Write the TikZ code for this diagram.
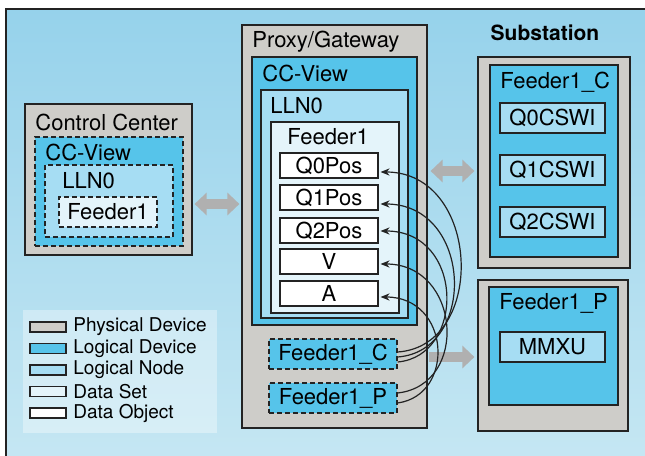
\documentclass[tikz,border=0pt]{standalone}
\usepackage{fontspec}
\setmainfont{TeX Gyre Heros}
\usetikzlibrary{fit,arrows.meta}
\definecolor{bgtop}{RGB}{150,210,235}
\definecolor{bgbottom}{RGB}{198,231,243}
\definecolor{physgray}{RGB}{206,205,201}
\definecolor{ldblue}{RGB}{86,196,234}
\definecolor{lnblue}{RGB}{166,221,243}
\definecolor{dsblue}{RGB}{228,244,250}
\definecolor{arrowgray}{RGB}{176,176,176}
\definecolor{linegray}{RGB}{35,35,35}

\begin{document}
\begin{tikzpicture}[x=0.5pt,y=-0.5pt,
    font=\fontsize{11}{13}\selectfont,
    box/.style={draw=linegray, line width=0.6pt, inner sep=0pt},
    phys/.style={box, fill=physgray},
    ldev/.style={box, fill=ldblue},
    lnode/.style={box, fill=lnblue},
    dset/.style={box, fill=dsblue},
    dobj/.style={box, fill=white},
    virt/.style={dash pattern=on 2.5pt off 1.5pt},
    inside/.style={label={[inner sep=0pt]center:#1}},
    boxtitle/.style={anchor=west, inner sep=0pt},
    link/.style={draw=linegray, line width=0.6pt, -{Stealth[length=4.5pt,width=3.6pt]}},
    bigarrow/.style={draw=arrowgray, line width=5pt}]
  \useasboundingbox (0,0) rectangle (645,456);
  \clip (0,0) rectangle (645,456);
  \fill[white] (0,0) rectangle (645,456);
  \fill[top color=bgtop, bottom color=bgbottom] (6,9) rectangle (660,470);
  \draw[linegray, line width=0.7pt] (6,470) -- (6,9) -- (660,9);

  % control center
  \node[phys, fit={(25,104) (192,255)}] (cc) {};
  \node[boxtitle] (cct) at (35,122) {Control Center};
  \node[ldev, virt, fit={(35,137) (183,246)}] (ccv) {};
  \node[boxtitle] (ccvt) at (45,152) {CC-View};
  \node[lnode, virt, fit={(45,165) (173,237)}] (ccl) {};
  \node[boxtitle] (cclt) at (62,181) {LLN0};
  \node[dset, virt, fit={(59,197) (157,227)}, inside=Feeder1] (ccf) {};

  % proxy / gateway
  \node[phys, fit={(242,25) (427,428)}] (gw) {};
  \node[boxtitle] (gwt) at (252,42) {Proxy/Gateway};
  \node[ldev, fit={(252,57) (417,325)}] (gwv) {};
  \node[boxtitle] (gwvt) at (262,73) {CC-View};
  \node[lnode, fit={(261,90) (408,318)}] (gwl) {};
  \node[boxtitle] (gwlt) at (270,106) {LLN0};
  \node[dset, fit={(271,122) (399,313)}] (gwf) {};
  \node[boxtitle] (gwft) at (287,137) {Feeder1};
  \node[dobj, fit={(280,153) (378,178)}, inside=Q0Pos] (q0) {};
  \node[dobj, fit={(280,185) (378,210)}, inside=Q1Pos] (q1) {};
  \node[dobj, fit={(280,218) (378,243)}, inside=Q2Pos] (q2) {};
  \node[dobj, fit={(280,249) (378,274)}, inside=V] (v) {};
  \node[dobj, fit={(280,281) (378,306)}, inside=A] (a) {};
  \node[ldev, virt, fit={(269,339) (397,369)}, inside=Feeder1\_C] (fc) {};
  \node[ldev, virt, fit={(269,383) (397,413)}, inside=Feeder1\_P] (fp) {};

  % substation
  \node[font=\bfseries\fontsize{10.5}{12}\selectfont] (sub) at (545,33) {Substation};
  \node[phys, fit={(478,57) (630,268)}] (subc) {};
  \node[ldev, fit={(490,65) (618,257)}] (subcl) {};
  \node[boxtitle] (subct) at (500,82) {Feeder1\_C};
  \node[lnode, fit={(500,103) (605,133)}, inside=Q0CSWI] (s0) {};
  \node[lnode, fit={(500,155) (605,185)}, inside=Q1CSWI] (s1) {};
  \node[lnode, fit={(500,207) (605,237)}, inside=Q2CSWI] (s2) {};
  \node[phys, fit={(478,280) (628,431)}] (subp) {};
  \node[ldev, fit={(489,287) (618,405)}] (subpl) {};
  \node[boxtitle] (subpt) at (499,303) {Feeder1\_P};
  \node[lnode, fit={(500,332) (605,362)}, inside=MMXU] (mmxu) {};

  % legend
  \fill[white, opacity=0.35] (23,310) rectangle (217,433);
  \foreach \col/\txt [count=\i] in {physgray/Physical Device, ldblue/Logical Device,
      lnblue/Logical Node, dsblue/Data Set, white/Data Object} {
    \pgfmathsetmacro\ly{305.5+21.5*\i}
    \node[box, fill=\col, fit={(30,\ly-5) (66,\ly+5)}] (sw\i) {};
    \node[boxtitle, font=\fontsize{9.5}{11}\selectfont] (lg\i) at (73,\ly) {\txt};
  }

  % gray links
  \draw[bigarrow, {Triangle[width=11pt,length=6pt]}-{Triangle[width=11pt,length=6pt]}]
    ([shift={(2,24.5)}]cc.east) -- ([shift={(-2,-22.5)}]gw.west);
  \draw[bigarrow, {Triangle[width=11pt,length=6pt]}-{Triangle[width=11pt,length=6pt]}]
    ([shift={(3,-55.5)}]gw.east) -- ([shift={(-3,8.5)}]subc.west);
  \draw[bigarrow, -{Triangle[width=11pt,length=6pt]}]
    ([shift={(1,130.5)}]gw.east) -- ([shift={(-3,1.5)}]subp.west);

  % data object references
  \draw[link] ([shift={(0,-2)}]fc.east) .. controls +(90,-6) and +(100,0) .. ([shift={(2,6.5)}]q0.east);
  \draw[link] ([shift={(0,3)}]fc.east) .. controls +(80,-6) and +(92,0) .. ([shift={(2,6.5)}]q1.east);
  \draw[link] ([shift={(0,8)}]fc.east) .. controls +(68,-6) and +(84,0) .. ([shift={(2,0.5)}]q2.east);
  \draw[link] ([shift={(0,-5)}]fp.east) .. controls +(72,-8) and +(80,0) .. ([shift={(2,2.5)}]v.east);
  \draw[link] ([shift={(0,5)}]fp.east) .. controls +(58,-8) and +(70,0) .. ([shift={(2,3.5)}]a.east);
\end{tikzpicture}
\end{document}
